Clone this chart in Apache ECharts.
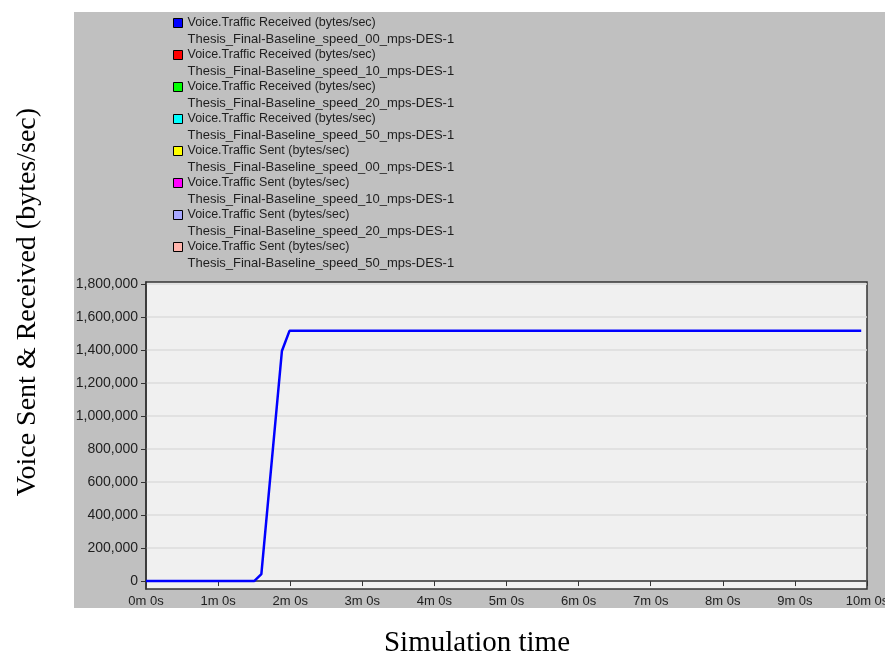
<!DOCTYPE html>
<html>
<head>
<meta charset="utf-8">
<script src="https://cdn.jsdelivr.net/npm/echarts@6/dist/echarts.min.js"></script>
<style>
  html, body { margin: 0; padding: 0; background: #ffffff; }
  #chart { width: 885px; height: 655px; }
</style>
</head>
<body>
<div id="chart"></div>
<script>
// Simulation time in minutes and voice traffic (bytes/sec)
const timeMinutes = [0, 1.5, 1.6, 1.885, 1.99, 9.92];
const receivedSpeed00 = [0, 0, 42000, 1394000, 1516000, 1516000];

const yTickValues = [0, 200000, 400000, 600000, 800000, 1000000, 1200000, 1400000, 1600000, 1800000];
const xTickValues = [0, 1, 2, 3, 4, 5, 6, 7, 8, 9, 10];

const statNames = [
  'Voice.Traffic Received (bytes/sec)',
  'Voice.Traffic Received (bytes/sec)',
  'Voice.Traffic Received (bytes/sec)',
  'Voice.Traffic Received (bytes/sec)',
  'Voice.Traffic Sent (bytes/sec)',
  'Voice.Traffic Sent (bytes/sec)',
  'Voice.Traffic Sent (bytes/sec)',
  'Voice.Traffic Sent (bytes/sec)'
];
const scenarioNames = [
  'Thesis_Final-Baseline_speed_00_mps-DES-1',
  'Thesis_Final-Baseline_speed_10_mps-DES-1',
  'Thesis_Final-Baseline_speed_20_mps-DES-1',
  'Thesis_Final-Baseline_speed_50_mps-DES-1',
  'Thesis_Final-Baseline_speed_00_mps-DES-1',
  'Thesis_Final-Baseline_speed_10_mps-DES-1',
  'Thesis_Final-Baseline_speed_20_mps-DES-1',
  'Thesis_Final-Baseline_speed_50_mps-DES-1'
];
const seriesColors = ['#0000ff', '#ff0000', '#00ff00', '#00ffff', '#ffff00', '#ff00ff', '#a8a8ff', '#ffb4ac'];
const seriesValues = [receivedSpeed00, [], [], [], [], [], [], []];

const seriesNames = statNames.map((s, i) => s + '\n' + scenarioNames[i]);

const chart = echarts.init(document.getElementById('chart'), null, { renderer: 'canvas' });

const series = seriesNames.map((name, i) => ({
  name: name,
  type: 'line',
  showSymbol: false,
  symbol: 'none',
  color: seriesColors[i],
  lineStyle: { color: seriesColors[i], width: 2.5 },
  z: 10 - i,
  data: seriesValues[i].map((v, k) => [timeMinutes[k], v])
}));

const legendFont = 'Liberation Sans, Arial, sans-serif';

chart.setOption({
  animation: false,
  backgroundColor: '#ffffff',
  graphic: [{
    type: 'rect',
    z: -10,
    shape: { x: 74, y: 12, width: 811, height: 596 },
    style: { fill: '#c0c0c0' }
  }, {
    // rotated value-axis title
    type: 'text',
    x: 28,
    y: 302,
    rotation: Math.PI / 2,
    style: {
      text: 'Voice Sent & Received (bytes/sec)',
      font: '28px "Liberation Serif", "Times New Roman", serif',
      fill: '#000000',
      align: 'center',
      verticalAlign: 'middle'
    }
  }, {
    // time-axis title
    type: 'text',
    x: 477,
    y: 643,
    style: {
      text: 'Simulation time',
      font: '29px "Liberation Serif", "Times New Roman", serif',
      fill: '#000000',
      align: 'center',
      verticalAlign: 'middle'
    }
  }],
  legend: {
    orient: 'vertical',
    left: 173,
    top: -1,
    padding: 0,
    itemGap: -16,
    itemWidth: 9,
    itemHeight: 9,
    icon: 'rect',
    itemStyle: { borderColor: '#000000', borderWidth: 1 },
    selectedMode: false,
    formatter: name => {
      const parts = name.split('\n');
      return '\n{a|' + parts[0] + '}\n{b|' + parts[1] + '}';
    },
    textStyle: {
      fontFamily: legendFont,
      fontSize: 12,
      lineHeight: 16,
      color: '#1e1e1e',
      rich: {
        a: { fontSize: 12.5, lineHeight: 16, color: '#1e1e1e', fontFamily: legendFont },
        b: { fontSize: 13, lineHeight: 16, color: '#1e1e1e', fontFamily: legendFont }
      }
    },
    data: seriesNames
  },
  grid: {
    left: 146,
    right: 18,
    top: 282,
    bottom: 66,
    outerBoundsMode: 'none',
    containLabel: false,
    show: true,
    backgroundColor: '#f0f0f0',
    borderColor: '#333333',
    borderWidth: 1.5
  },
  xAxis: {
    type: 'value',
    min: 0,
    max: 10,
    interval: 1,
    axisLine: { show: true, lineStyle: { color: '#333333', width: 1.5 } },
    axisTick: { show: true, length: 5, lineStyle: { color: '#333333' } },
    axisLabel: {
      customValues: xTickValues,
      formatter: v => v + 'm 0s',
      fontFamily: legendFont,
      fontSize: 13,
      color: '#1e1e1e',
      margin: 6
    },
    splitLine: { show: false }
  },
  yAxis: {
    type: 'value',
    min: -48000,
    max: 1812000,
    axisLine: { show: true, lineStyle: { color: '#333333', width: 1.5 } },
    axisTick: { show: true, length: 5, customValues: yTickValues, lineStyle: { color: '#333333' } },
    axisLabel: {
      customValues: yTickValues,
      formatter: v => v.toLocaleString('en-US'),
      fontFamily: legendFont,
      fontSize: 14,
      color: '#1e1e1e',
      margin: 8
    },
    splitLine: { show: true, lineStyle: { color: '#dcdcdc', width: 1.5 } }
  },
  series: series
});
</script>
</body>
</html>
